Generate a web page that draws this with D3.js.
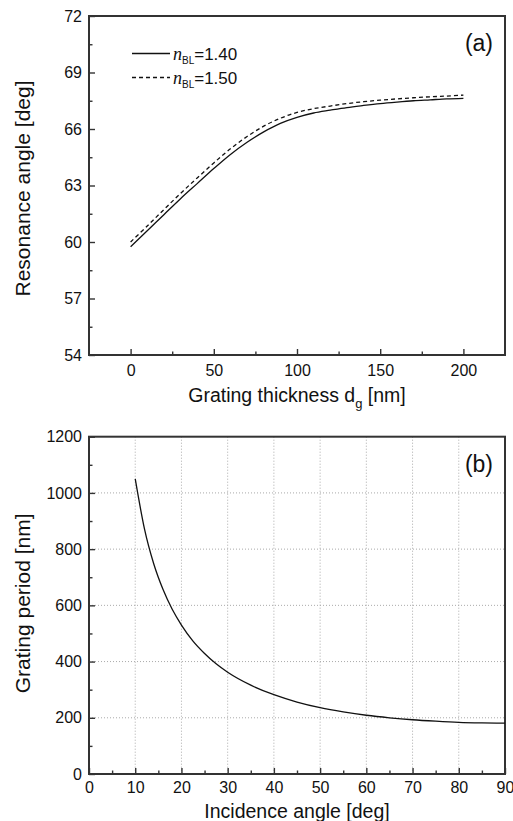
<!DOCTYPE html>
<html><head><meta charset="utf-8">
<script src="https://cdn.jsdelivr.net/npm/d3@7/dist/d3.min.js"></script>
<style>
html,body{margin:0;padding:0;background:#fff;}
svg{display:block;font-family:"Liberation Sans",Arial,sans-serif;}
</style></head>
<body>
<svg id="chart" width="513" height="821"></svg>
<script>
// ---- Panel (a) data ----
const thickness = [0,10,20,30,40,50,60,70,80,90,100,110,120,130,140,150,160,170,180,190,200];
const nBL140 = [59.75,60.6,61.45,62.3,63.1,63.9,64.65,65.3,65.85,66.3,66.62,66.85,67.0,67.14,67.25,67.35,67.43,67.5,67.55,67.6,67.63];
const nBL150 = [60.0,60.85,61.72,62.58,63.4,64.2,64.95,65.6,66.15,66.57,66.88,67.08,67.22,67.35,67.45,67.53,67.6,67.66,67.71,67.75,67.8];
const legendLabels = ["1.40","1.50"];
const aXTicks = [0,50,100,150,200];
const aYTicks = [54,57,60,63,66,69,72];

// ---- Panel (b) data ----
const incidence = [10,12,14,16,18,20,22.5,25,27.5,30,35,40,45,50,55,60,65,70,75,80,85,90];
const period = [1050,872,748,657,586,530,473,429,392,362,316,282,256,236,221,209,200,193,188,184,182,181];
const bXTicks = [0,10,20,30,40,50,60,70,80,90];
const bYTicks = [0,200,400,600,800,1000,1200];

const svg = d3.select("#chart");
const axisColor = "#333";
const font = '"Liberation Sans",Arial,sans-serif';

function styleAxis(g){
  g.select(".domain").remove();
  g.selectAll(".tick line").attr("stroke",axisColor).attr("stroke-width",1.4);
  g.selectAll(".tick text").attr("fill","#111").style("font-size","16px").style("font-family",font);
}

function frame(L,R,T,B){
  svg.append("rect").attr("x",L).attr("y",T).attr("width",R-L).attr("height",B-T)
    .attr("fill","none").attr("stroke",axisColor).attr("stroke-width",2);
}

// ================= Panel (a) =================
{
  const L=89,R=505,T=16,B=355;
  const x = d3.scaleLinear().domain([-25,225]).range([L,R]);
  const y = d3.scaleLinear().domain([54,72]).range([B,T]);

  svg.append("g").attr("transform",`translate(0,${B})`)
    .call(d3.axisBottom(x).tickValues([25,75,125,175]).tickSize(-3.5).tickFormat(""))
    .call(styleAxis);
  svg.append("g").attr("transform",`translate(${L},0)`)
    .call(d3.axisLeft(y).tickValues([55.5,58.5,61.5,64.5,67.5,70.5]).tickSize(-3.5).tickFormat(""))
    .call(styleAxis);
  svg.append("g").attr("transform",`translate(0,${B})`)
    .call(d3.axisBottom(x).tickValues(aXTicks).tickSize(-6).tickPadding(10).tickFormat(d3.format("d")))
    .call(styleAxis);
  svg.append("g").attr("transform",`translate(${L},0)`)
    .call(d3.axisLeft(y).tickValues(aYTicks).tickSize(-6).tickPadding(7).tickFormat(d3.format("d")))
    .call(styleAxis);

  frame(L,R,T,B);

  const line = d3.line().x((d,i)=>x(thickness[i])).y(d=>y(d)).curve(d3.curveCatmullRom.alpha(0.5));
  svg.append("path").datum(nBL140).attr("d",line).attr("fill","none").attr("stroke","#111").attr("stroke-width",1.3);
  svg.append("path").datum(nBL150).attr("d",line).attr("fill","none").attr("stroke","#111").attr("stroke-width",1.3).attr("stroke-dasharray","4,3");

  const leg = svg.append("g");
  legendLabels.forEach((lab,i)=>{
    const ly = 53.5 + i*24;
    leg.append("line").attr("x1",132).attr("x2",170).attr("y1",ly).attr("y2",ly)
      .attr("stroke","#111").attr("stroke-width",1.3).attr("stroke-dasharray", i===1 ? "4,3" : null);
    const t = leg.append("text").attr("x",173).attr("y",ly+6.5).attr("fill","#111").style("font-size","17px");
    t.append("tspan").style("font-style","italic").style("font-family","'Liberation Serif','Times New Roman',serif").style("font-size","18px").text("n");
    t.append("tspan").attr("dy",4).style("font-size","10px").text("BL");
    t.append("tspan").attr("dy",-4).text("="+lab);
  });

  svg.append("text").attr("x",493).attr("y",50.5).attr("text-anchor","end").attr("fill","#111")
    .style("font-size","23px").text("(a)");

  const xt = svg.append("text").attr("x",(L+R)/2).attr("y",402).attr("text-anchor","middle").attr("fill","#111").style("font-size","19.5px");
  xt.append("tspan").text("Grating thickness d");
  xt.append("tspan").attr("dy",6).style("font-size","13px").text("g");
  xt.append("tspan").attr("dy",-6).text(" [nm]");

  svg.append("text").attr("transform",`translate(30,${(T+B)/2+3}) rotate(-90)`).attr("text-anchor","middle").attr("fill","#111")
    .style("font-size","21px").text("Resonance angle [deg]");
}

// ================= Panel (b) =================
{
  const L=89,R=505,T=436.7,B=774;
  const x = d3.scaleLinear().domain([0,90]).range([L,R]);
  const y = d3.scaleLinear().domain([0,1200]).range([B,T]);

  const grid = svg.append("g");
  grid.selectAll("line.v").data(bXTicks.filter(d=>d>0&&d<90)).join("line")
    .attr("x1",d=>x(d)).attr("x2",d=>x(d)).attr("y1",T).attr("y2",B)
    .attr("stroke","#aaa").attr("stroke-width",1).attr("stroke-dasharray","1,2");
  grid.selectAll("line.h").data(bYTicks.filter(d=>d>0&&d<1200)).join("line")
    .attr("x1",L).attr("x2",R).attr("y1",d=>y(d)).attr("y2",d=>y(d))
    .attr("stroke","#aaa").attr("stroke-width",1).attr("stroke-dasharray","1,2");

  svg.append("g").attr("transform",`translate(0,${B})`)
    .call(d3.axisBottom(x).tickValues([5,15,25,35,45,55,65,75,85]).tickSize(-3.5).tickFormat(""))
    .call(styleAxis);
  svg.append("g").attr("transform",`translate(${L},0)`)
    .call(d3.axisLeft(y).tickValues([100,300,500,700,900,1100]).tickSize(-3.5).tickFormat(""))
    .call(styleAxis);
  svg.append("g").attr("transform",`translate(0,${B})`)
    .call(d3.axisBottom(x).tickValues(bXTicks).tickSize(-6).tickPadding(8).tickFormat(d3.format("d")))
    .call(styleAxis);
  svg.append("g").attr("transform",`translate(${L},0)`)
    .call(d3.axisLeft(y).tickValues(bYTicks).tickSize(-6).tickPadding(7).tickFormat(d3.format("d")))
    .call(styleAxis);

  frame(L,R,T,B);

  const line = d3.line().x((d,i)=>x(incidence[i])).y(d=>y(d)).curve(d3.curveMonotoneX);
  svg.append("path").datum(period).attr("d",line).attr("fill","none").attr("stroke","#111").attr("stroke-width",1.3);

  svg.append("text").attr("x",493).attr("y",472).attr("text-anchor","end").attr("fill","#111")
    .style("font-size","23px").text("(b)");

  svg.append("text").attr("x",(L+R)/2).attr("y",818).attr("text-anchor","middle").attr("fill","#111")
    .style("font-size","19.5px").text("Incidence angle [deg]");

  svg.append("text").attr("transform",`translate(30,${(T+B)/2-2}) rotate(-90)`).attr("text-anchor","middle").attr("fill","#111")
    .style("font-size","21px").text("Grating period [nm]");
}
</script>
</body></html>
